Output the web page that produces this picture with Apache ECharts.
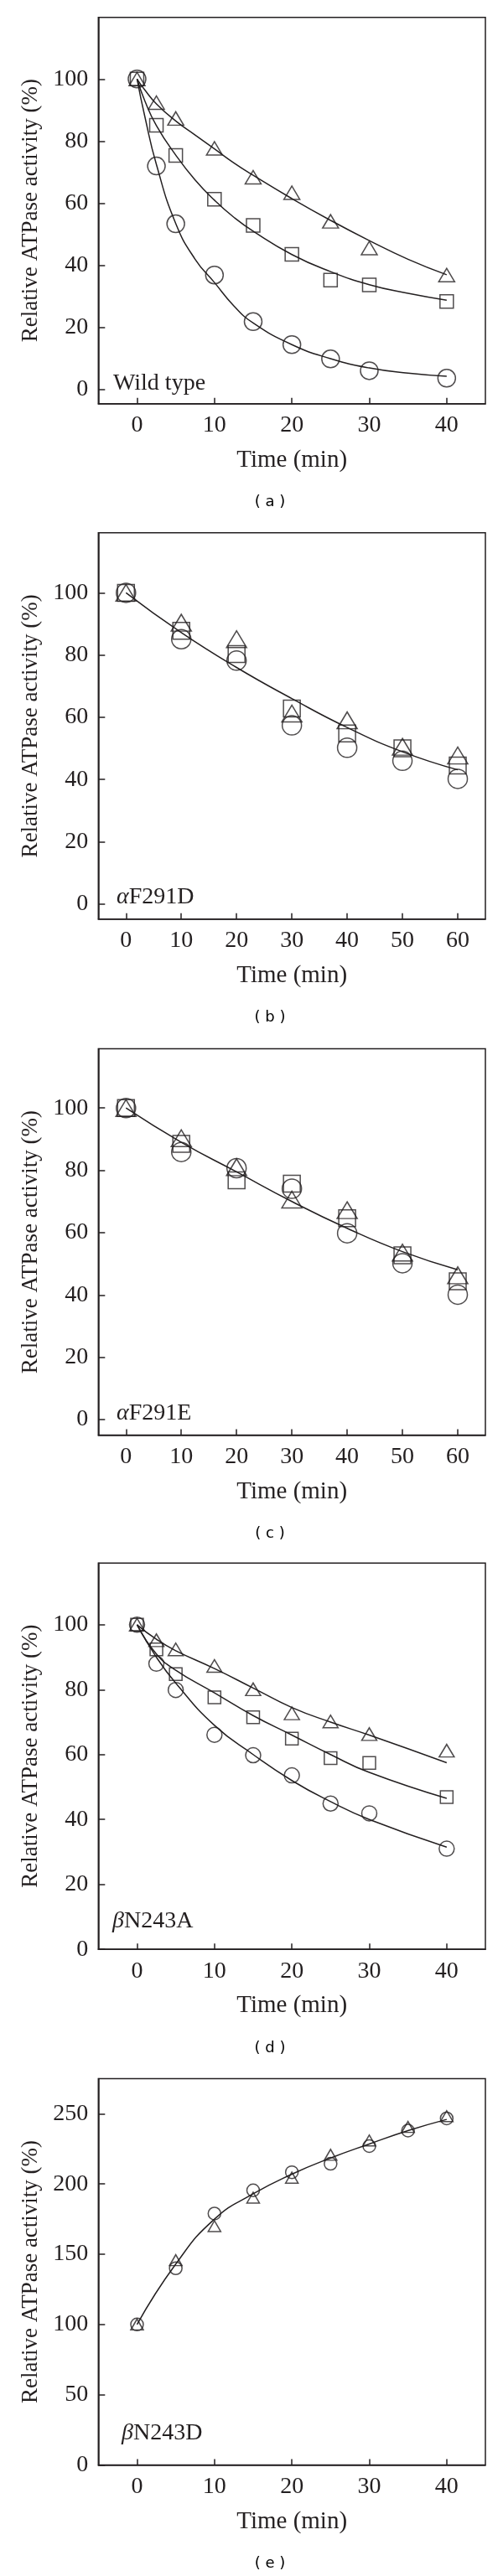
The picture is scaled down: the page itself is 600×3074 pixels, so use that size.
<!DOCTYPE html>
<html><head><meta charset="utf-8">
<script src="https://cdn.jsdelivr.net/npm/echarts@6.0.0/dist/echarts.min.js"></script>
<style>html,body{margin:0;padding:0;background:#fff}#c{width:600px;height:3074px}</style>
</head><body><div id="c"></div>
<script>
// ---------- data ----------
const timeA = [0, 2.5, 5, 10, 15, 20, 25, 30, 40];
const wtCircle   = [100, 72, 53.4, 36.9, 21.9, 14.5, 9.9, 6.1, 3.7];
const wtSquare   = [100, 85.1, 75.4, 61.3, 52.9, 43.6, 35.3, 33.7, 28.4];
const wtTriangle = [100, 92.4, 87.3, 77.7, 68.4, 63.4, 54.2, 45.6, 36.9];
const fitTimeA = [0, 1, 2.5, 5, 7.5, 10, 12.5, 15, 20, 25, 30, 35, 40];
const wtFitCircle   = [100, 88, 72.5, 53.5, 42, 34.5, 27, 21.5, 14.5, 10, 7, 5.3, 4.3];
const wtFitSquare   = [100, 93, 85, 75.5, 67.5, 61, 55.5, 51, 43.5, 38, 33.8, 31, 28.8];
const wtFitTriangle = [100, 96.5, 92, 86.5, 82, 77.5, 73, 69, 61.5, 54.5, 48, 42, 37];

const timeB = [0, 10, 20, 30, 40, 50, 60];
const f291dCircle   = [100, 85.1, 78.2, 57.4, 50.2, 46, 40.2];
const f291dSquare   = [100, 87.8, 80.3, 62.8, 54.8, 50, 44.5];
const f291dTriangle = [100, 90.4, 85.1, 61.2, 59, 50.5, 47.7];
const f291dFit      = [100, 87.2, 76, 66, 56.7, 48.9, 43.1];

const f291eCircle   = [100, 85.9, 80.7, 74.1, 59.8, 50.2, 40.1];
const f291eSquare   = [100, 88.5, 76.8, 75.7, 64.6, 52.7, 44.4];
const f291eTriangle = [100, 90.3, 81, 70.6, 67.2, 53.6, 46.3];
const f291eFit      = [100, 89, 79.5, 70, 61.4, 53.9, 48.1];

const n243aTriangle = [100, 95.2, 92.4, 87.3, 80.1, 72.7, 70.2, 66.3, 61.2];
const n243aSquare   = [100, 92.4, 84.8, 77.6, 71.5, 64.9, 58.9, 57.4, 46.9];
const n243aCircle   = [100, 88, 79.9, 66.1, 59.8, 53.6, 44.9, 41.9, 31];
const n243aFitTriangle = [100, 95.5, 92, 86.5, 80.5, 74.5, 70, 66, 57.5];
const n243aFitSquare   = [100, 91, 86, 79, 72, 66, 60, 54.5, 46.5];
const n243aFitCircle   = [100, 90, 82, 69, 60, 52, 45.5, 40, 31.5];

const timeE = [0, 5, 10, 15, 20, 25, 30, 35, 40];
const n243dCircle   = [100, 140, 179, 195.5, 208.4, 214.4, 227, 238, 246.7];
const n243dTriangle = [100, 145.8, 170, 190.3, 204.5, 220.8, 231, 240.6, 248.3];
const n243dFit      = [100, 143, 175, 193, 207, 218.5, 228.5, 238, 246];

const xTicks40 = [0, 10, 20, 30, 40];
const xTicks60 = [0, 10, 20, 30, 40, 50, 60];
const yTicks100 = [0, 20, 40, 60, 80, 100];
const yTicks250 = [0, 50, 100, 150, 200, 250];
const panelNames = ['Wild type', '{g|α}F291D', '{g|α}F291E', '{g|β}N243A', '{g|β}N243D'];
const panelLetters = ['( a )', '( b )', '( c )', '( d )', '( e )'];
const xTitle = 'Time (min)';
const yTitle = 'Relative ATPase activity (%)';

// ---------- layout ----------
const INK = '#231f20';
const SERIF = '"Liberation Serif", "Times New Roman", serif';
const GL = 117.3, GW = 461.7, GH = 461;
const layout = [
  {top: 20.7,   yMin: -4.5, yMax: 119.85, xMax: 45, xT: xTicks40, yT: yTicks100, nameX: 135, nameY: 458, sz: {c: 21, s: 16, t: [19, 16]}},
  {top: 635.8,  yMin: -4.9, yMax: 119.3,  xMax: 65, xT: xTicks60, yT: yTicks100, nameX: 139, nameY: 1071, sz: {c: 23, s: 20, t: [24, 20]}},
  {top: 1251.6, yMin: -5,   yMax: 119,    xMax: 65, xT: xTicks60, yT: yTicks100, nameX: 139, nameY: 1687, sz: {c: 23, s: 20, t: [24, 20]}},
  {top: 1865.2, yMin: 0,    yMax: 119,    xMax: 45, xT: xTicks40, yT: yTicks100, nameX: 134, nameY: 2293, sz: {c: 18, s: 15, t: [18, 15]}},
  {top: 2480.5, yMin: 0,    yMax: 275,    xMax: 45, xT: xTicks40, yT: yTicks250, nameX: 145, nameY: 2904, sz: {c: 15, s: 15, t: [15, 13]}}
];

const grids = [], xAxes = [], yAxes = [], series = [], graphics = [];
layout.forEach((p, i) => {
  grids.push({left: GL, top: p.top, width: GW, height: GH, show: true,
    borderColor: INK, borderWidth: 1.5, backgroundColor: 'transparent'});
  xAxes.push({gridIndex: i, type: 'value', min: -5, max: p.xMax,
    axisLine: {show: true, onZero: false, lineStyle: {color: INK, width: 1.5}},
    axisTick: {show: true, inside: true, length: 7, customValues: p.xT, lineStyle: {color: INK, width: 1.5}},
    axisLabel: {customValues: p.xT, margin: 12, color: INK, fontFamily: SERIF, fontSize: 28},
    splitLine: {show: false},
    name: xTitle, nameLocation: 'middle', nameGap: 53,
    nameTextStyle: {color: INK, fontFamily: SERIF, fontSize: 29}});
  yAxes.push({gridIndex: i, type: 'value', min: p.yMin, max: p.yMax,
    axisLine: {show: true, onZero: false, lineStyle: {color: INK, width: 1.5}},
    axisTick: {show: true, inside: true, length: 8, customValues: p.yT, lineStyle: {color: INK, width: 1.5}},
    axisLabel: {customValues: p.yT, margin: 12, color: INK, fontFamily: SERIF, fontSize: 28},
    splitLine: {show: false},
    name: yTitle, nameLocation: 'middle', nameGap: 67,
    nameTextStyle: {color: INK, fontFamily: SERIF, fontSize: 27}});
  graphics.push({type: 'text', x: p.nameX, y: p.nameY, style: {
    text: panelNames[i], fill: INK, font: '28px ' + SERIF, align: 'left', verticalAlign: 'middle',
    rich: {g: {fontStyle: 'italic', fontFamily: SERIF, fontSize: 28, fill: INK, color: INK}}}});
  graphics.push({type: 'text', x: 322, y: p.top + GH + 118, style: {
    text: panelLetters[i], fill: '#000', font: '18px "DejaVu Sans", sans-serif', align: 'center', verticalAlign: 'middle'}});
});

function zip(xs, ys) { return xs.map((x, k) => [x, ys[k]]); }
function marks(i, xs, ys, shape) {
  const s = layout[i].sz;
  const size = shape === 'circle' ? s.c : shape === 'rect' ? s.s : s.t;
  series.push({type: 'scatter', xAxisIndex: i, yAxisIndex: i, data: zip(xs, ys),
    symbol: shape, symbolSize: size, silent: true, z: 3,
    itemStyle: {color: 'rgba(0,0,0,0)', borderColor: INK, borderWidth: 1.5}});
}
function curve(i, xs, ys) {
  series.push({type: 'line', xAxisIndex: i, yAxisIndex: i, data: zip(xs, ys),
    showSymbol: false, smooth: 0.5, silent: true, z: 2,
    lineStyle: {color: INK, width: 1.5}});
}

curve(0, fitTimeA, wtFitCircle); curve(0, fitTimeA, wtFitSquare); curve(0, fitTimeA, wtFitTriangle);
marks(0, timeA, wtCircle, 'circle'); marks(0, timeA, wtSquare, 'rect'); marks(0, timeA, wtTriangle, 'triangle');

curve(1, timeB, f291dFit);
marks(1, timeB, f291dCircle, 'circle'); marks(1, timeB, f291dSquare, 'rect'); marks(1, timeB, f291dTriangle, 'triangle');

curve(2, timeB, f291eFit);
marks(2, timeB, f291eCircle, 'circle'); marks(2, timeB, f291eSquare, 'rect'); marks(2, timeB, f291eTriangle, 'triangle');

curve(3, timeA, n243aFitTriangle); curve(3, timeA, n243aFitSquare); curve(3, timeA, n243aFitCircle);
marks(3, timeA, n243aCircle, 'circle'); marks(3, timeA, n243aSquare, 'rect'); marks(3, timeA, n243aTriangle, 'triangle');

curve(4, timeE, n243dFit);
marks(4, timeE, n243dCircle, 'circle'); marks(4, timeE, n243dTriangle, 'triangle');

const chart = echarts.init(document.getElementById('c'), null, {renderer: 'canvas'});
chart.setOption({animation: false, backgroundColor: '#fff',
  grid: grids, xAxis: xAxes, yAxis: yAxes, series: series, graphic: graphics});
</script></body></html>
